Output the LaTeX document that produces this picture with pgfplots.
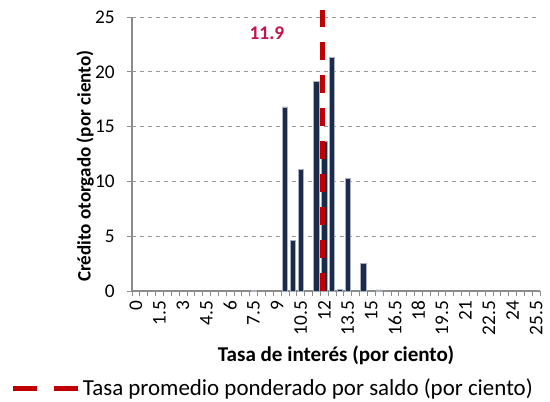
\documentclass[border=0pt]{standalone}
\usepackage{pgfplots}
\pgfplotsset{compat=1.18}
\usepackage{fontspec}
\setmainfont{Carlito}
\definecolor{barnavy}{HTML}{1B2C4B}
\definecolor{baredge}{HTML}{A9B1C0}
\definecolor{avgred}{HTML}{C00000}
\definecolor{labred}{HTML}{C0144B}
\definecolor{axgrey}{HTML}{8C8C8C}

\begin{document}
\begin{tikzpicture}
% page = 550 x 402 px at 0.75pt per px; axis box sits at (0,0)
\path[use as bounding box] (-99pt,-83.25pt) rectangle (313.5pt,218.25pt);
\begin{axis}[
  scale only axis, width=306pt, height=205.5pt,
  xmin=-0.25, xmax=25.75, ymin=0, ymax=25,
  axis x line*=bottom, axis y line*=left,
  axis line style={axgrey, line width=0.8pt},
  xtick={0,1.5,...,25.5}, major x tick style={draw=none},
  minor xtick={-0.25,0.25,...,25.8},
  minor x tick style={axgrey, line width=0.6pt},
  ytick={0,5,...,25},
  y tick style={axgrey, line width=0.6pt},
  tick align=outside, major tick length=4pt, minor tick length=4pt,
  ymajorgrids, grid style={gray!80, dashed, line width=0.6pt},
  x tick label style={rotate=90, anchor=east, font=\fontsize{14.5}{16}\selectfont},
  y tick label style={font=\fontsize{14.5}{16}\selectfont, xshift=-5.5pt},
  /pgf/number format/assume math mode=true,
  xticklabel style={/pgf/number format/fixed},
  xlabel={\textbf{Tasa de interés (por ciento)}},
  ylabel={\textbf{Crédito otorgado (por ciento)}},
  xlabel style={at={(0.5,-0.235)}, anchor=center, font=\fontsize{15.8}{18}\selectfont},
  ylabel style={at={(-0.115,0.455)}, anchor=center, font=\fontsize{14.3}{17}\selectfont},
  legend style={at={(-0.299,-0.355)}, anchor=west, draw=none, fill=none,
    font=\fontsize{17.2}{19}\selectfont, inner sep=0pt},
  legend cell align=left,
  clip=false,
]
\addplot[ybar, bar width=0.34, fill=barnavy, draw=baredge, line width=0.5pt, forget plot]
  coordinates {
  (7.5,0.05) (9.5,16.8) (10.0,4.6) (10.5,11.1) (11.5,19.1) (12.0,13.7)
  (12.5,21.3) (13.0,0.15) (13.5,10.3) (14.5,2.5) (15.5,0.1)
  };
\addplot[avgred, line width=3.5pt, dash pattern=on 13.5pt off 11.25pt,
  legend image code/.code={\draw[avgred, line width=3.5pt, dash pattern=on 18pt off 12.75pt]
    (0pt,0pt) -- (49pt,0pt);}]
  coordinates {(11.9,0) (11.9,25.6)};
\addlegendentry{Tasa promedio ponderado por saldo (por ciento)}
\node[text=labred, font=\fontsize{14.5}{16}\bfseries, anchor=center]
  at (axis cs:8.35,23.5) {11.9};
\end{axis}
\end{tikzpicture}
\end{document}
